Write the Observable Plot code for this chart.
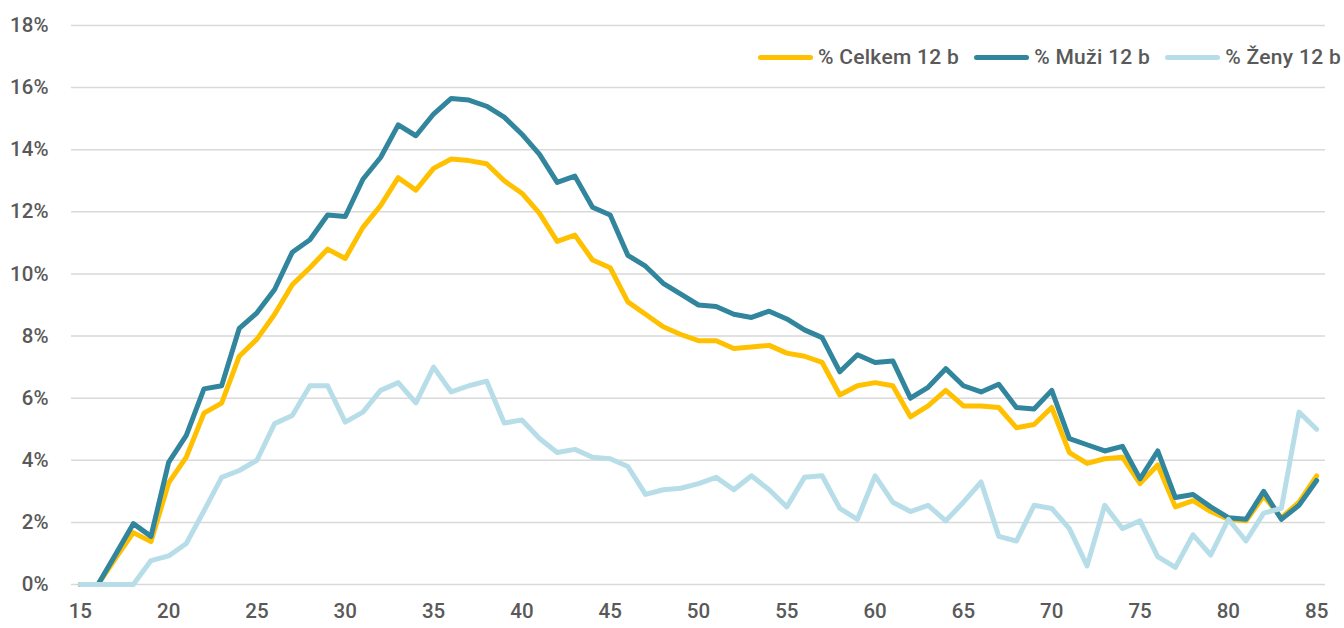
<!DOCTYPE html>
<html>
<head>
<meta charset="utf-8">
<script src="https://cdn.jsdelivr.net/npm/d3@7"></script>
<script src="https://cdn.jsdelivr.net/npm/@observablehq/plot@0.6"></script>
<style>
  html, body { margin: 0; padding: 0; background: #fff; }
  #wrap { position: relative; width: 1344px; height: 628px; overflow: hidden; font-family: Roboto, "Noto Sans", sans-serif; }
  #legend { position: absolute; top: 45px; right: 3px; display: flex; align-items: center; white-space: nowrap; font-size: 21px; letter-spacing: 0.3px; color: #595959; font-weight: 500; }
  .item { display: flex; align-items: center; margin-left: 15px; }
  .item:first-child { margin-left: 0; }
  .sw { width: 55px; height: 5px; border-radius: 3px; margin-right: 5px; }
</style>
</head>
<body>
<div id="wrap"><div id="chart"></div><div id="legend"></div></div>
<script>
const ages = d3.range(15, 86);
const seriesNames = ["% Celkem 12 b", "% Muži 12 b", "% Ženy 12 b"];
const seriesColors = ["#FFC000", "#31859C", "#B7DEE8"];
const celkem = [0,0,0.85,1.67,1.38,3.27,4.1,5.52,5.84,7.35,7.9,8.7,9.65,10.2,10.8,10.5,11.5,12.2,13.1,12.7,13.4,13.7,13.65,13.55,13.0,12.6,11.95,11.05,11.25,10.45,10.2,9.1,8.7,8.3,8.05,7.85,7.85,7.6,7.65,7.7,7.45,7.35,7.15,6.1,6.4,6.5,6.4,5.4,5.75,6.25,5.75,5.75,5.7,5.05,5.15,5.7,4.25,3.9,4.05,4.1,3.25,3.85,2.5,2.7,2.35,2.1,2.05,2.85,2.15,2.65,3.5];
const muzi = [0,0,0.97,1.96,1.55,3.93,4.8,6.3,6.4,8.25,8.75,9.5,10.7,11.1,11.9,11.85,13.05,13.75,14.8,14.45,15.15,15.65,15.6,15.4,15.05,14.5,13.85,12.95,13.15,12.15,11.9,10.6,10.25,9.7,9.35,9.0,8.95,8.7,8.6,8.8,8.55,8.2,7.95,6.85,7.4,7.15,7.2,6.0,6.35,6.95,6.4,6.2,6.45,5.7,5.65,6.25,4.7,4.5,4.3,4.45,3.4,4.3,2.8,2.9,2.5,2.15,2.1,3.0,2.1,2.55,3.35];
const zeny = [0,0,0,0,0.77,0.92,1.32,2.37,3.45,3.67,4.0,5.18,5.44,6.4,6.4,5.23,5.55,6.25,6.5,5.85,7.0,6.2,6.4,6.55,5.2,5.3,4.7,4.25,4.35,4.1,4.05,3.8,2.9,3.05,3.1,3.25,3.45,3.05,3.5,3.05,2.5,3.45,3.5,2.45,2.1,3.5,2.65,2.35,2.55,2.05,2.65,3.3,1.55,1.4,2.55,2.45,1.8,0.6,2.55,1.8,2.05,0.9,0.55,1.6,0.95,2.1,1.4,2.3,2.45,5.55,5.0];
const yTicks = d3.range(0, 19, 2);
const xTicks = d3.range(15, 86, 5);

const values = [celkem, muzi, zeny];
const data = [];
values.forEach((arr, si) => arr.forEach((v, i) => data.push({age: ages[i], value: v, series: seriesNames[si]})));

const chart = Plot.plot({
  width: 1344,
  height: 628,
  marginLeft: 71,
  marginRight: 19,
  marginTop: 25,
  marginBottom: 44,
  style: { fontFamily: "Roboto, 'Noto Sans', sans-serif", fontSize: "20.5px", color: "#595959", fontWeight: 500, background: "#fff" },
  x: { domain: [14.5, 85.5], label: null },
  y: { domain: [0, 18], label: null },
  color: { domain: seriesNames, range: seriesColors },
  marks: [
    Plot.ruleY(yTicks, { stroke: "#D9D9D9", strokeWidth: 1.5 }),
    Plot.axisX({ ticks: xTicks, tickSize: 0, tickPadding: 19, tickFormat: d => String(d), label: null, fill: "#595959" }),
    Plot.axisY({ ticks: yTicks, tickSize: 0, tickPadding: 23, tickFormat: d => d + "%", label: null, fill: "#595959" }),
    Plot.line(data, { x: "age", y: "value", z: "series", stroke: "series", strokeWidth: 5, strokeLinejoin: "round", strokeLinecap: "round" })
  ]
});
document.getElementById("chart").appendChild(chart);

const legend = document.getElementById("legend");
seriesNames.forEach((n, i) => {
  const it = document.createElement("div");
  it.className = "item";
  const sw = document.createElement("div");
  sw.className = "sw";
  sw.style.background = seriesColors[i];
  const t = document.createElement("span");
  t.textContent = n;
  it.appendChild(sw); it.appendChild(t);
  legend.appendChild(it);
});
</script>
</body>
</html>
